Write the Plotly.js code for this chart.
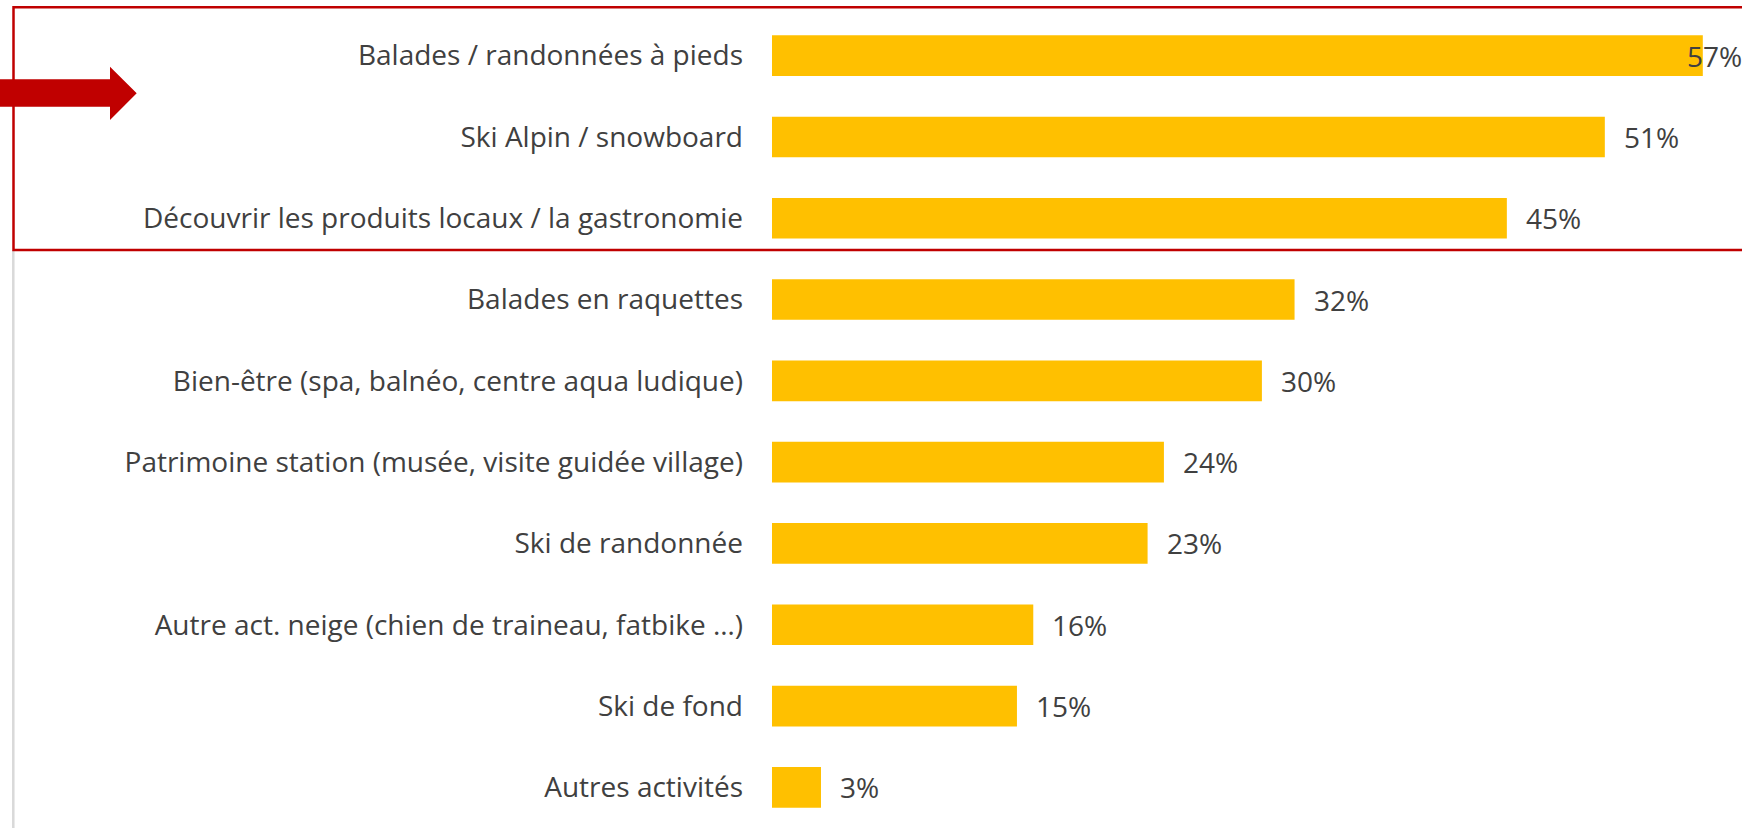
<!DOCTYPE html>
<html>
<head>
<meta charset="utf-8">
<script src="https://cdn.plot.ly/plotly-3.0.1.min.js"></script>
<style>
  html, body { margin: 0; padding: 0; background: #ffffff; }
  #chart { width: 1742px; height: 828px; }
</style>
</head>
<body>
<div id="chart"></div>
<script>
const categories = [
  "Balades / randonnées à pieds",
  "Ski Alpin / snowboard",
  "Découvrir les produits locaux / la gastronomie",
  "Balades en raquettes",
  "Bien-être (spa, balnéo, centre aqua ludique)",
  "Patrimoine station (musée, visite guidée village)",
  "Ski de randonnée",
  "Autre act. neige (chien de traineau, fatbike …)",
  "Ski de fond",
  "Autres activités"
];
const values = [57, 51, 45, 32, 30, 24, 23, 16, 15, 3];
const valueLabels = ["57%", "51%", "45%", "32%", "30%", "24%", "23%", "16%", "15%", "3%"];

const W = 1742, H = 828;
const M = { l: 772, r: 0, t: 15, b: 0 };
const plotW = W - M.l - M.r, plotH = H - M.t - M.b;
const px = x => (x - M.l) / plotW;
const py = y => 1 - (y - M.t) / plotH;

const textColor = "#404040";
const fontFamily = "'Open Sans', 'Noto Sans', sans-serif";

const maxVal = Math.max(...values);
const annotations = values.map((v, i) => ({
  x: v, y: categories[i], xref: "x", yref: "y",
  text: valueLabels[i], showarrow: false,
  xanchor: "left", yanchor: "middle",
  xshift: v === maxVal ? -18 : 17,
  font: { family: fontFamily, size: 28, color: textColor }
}));

const arrowPts = [[0, 79.3], [110, 79.3], [110, 66.7], [136.7, 93.3], [110, 120], [110, 106.7], [0, 106.7]];
const arrowPath = "M " + arrowPts.map(p => px(p[0]) + "," + py(p[1])).join(" L ") + " Z";

const shapes = [
  { type: "line", xref: "paper", yref: "paper",
    x0: px(13.3), x1: px(13.3), y0: py(250), y1: py(830),
    line: { color: "#D9D9D9", width: 2.5 } },
  { type: "rect", xref: "paper", yref: "paper",
    x0: px(13.5), x1: px(1760), y0: py(7.3), y1: py(250),
    line: { color: "#C00000", width: 2.5 }, fillcolor: "rgba(0,0,0,0)" },
  { type: "path", xref: "paper", yref: "paper", path: arrowPath,
    fillcolor: "#C00000", line: { width: 0 } }
];

const trace = {
  type: "bar", orientation: "h",
  x: values, y: categories,
  marker: { color: "#FFC000" },
  hoverinfo: "none", cliponaxis: false
};

const layout = {
  width: W, height: H,
  margin: M,
  paper_bgcolor: "#ffffff", plot_bgcolor: "#ffffff",
  showlegend: false,
  bargap: 0.5,
  xaxis: { range: [0, plotW / 16.33], visible: false, fixedrange: true },
  yaxis: {
    type: "category", autorange: false, range: [9.5, -0.5],
    showgrid: false, zeroline: false, showline: false,
    ticks: "", ticklabelstandoff: 28,
    tickfont: { family: fontFamily, size: 28, color: textColor },
    fixedrange: true
  },
  annotations: annotations,
  shapes: shapes
};

Plotly.newPlot("chart", [trace], layout, { displayModeBar: false, staticPlot: true });
</script>
</body>
</html>
